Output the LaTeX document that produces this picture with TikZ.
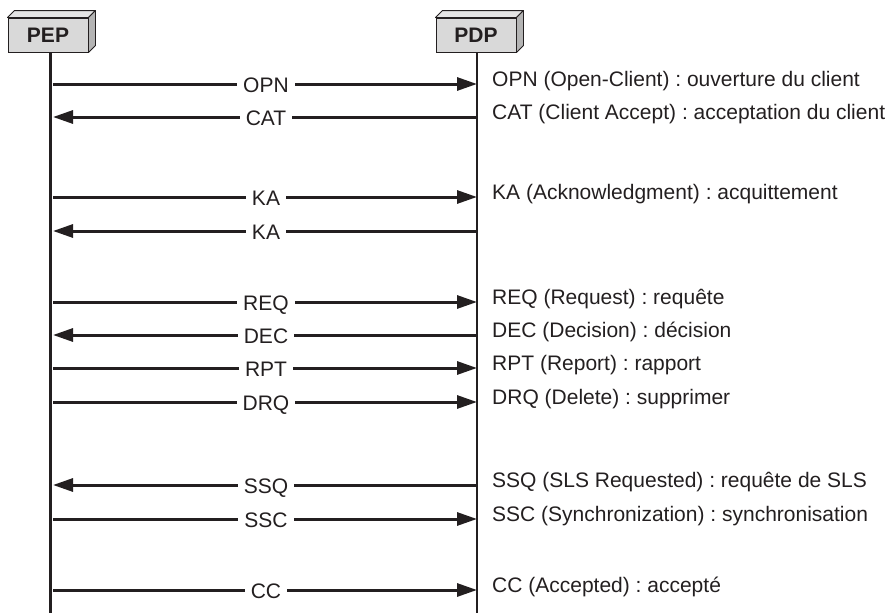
\documentclass[tikz,border=0pt]{standalone}
\usepackage{fontspec}
\setmainfont{Liberation Sans}
\usetikzlibrary{arrows.meta,calc}
\frenchspacing
\definecolor{ink}{HTML}{231F20}
\definecolor{boxfront}{HTML}{D9D9D9}
\definecolor{boxtop}{HTML}{E4E4E4}
\definecolor{boxside}{HTML}{B4B4B4}
\tikzset{
  txt/.style={font=\fontsize{21pt}{25pt}\selectfont, text=ink},
  entity/.style={txt, font=\fontsize{21pt}{25pt}\selectfont\bfseries, draw=ink, line width=0.9pt, fill=boxfront, minimum width=80pt, minimum height=34pt, inner sep=0pt},
  face/.style={draw=ink, line width=0.9pt, line join=round},
  lifeline/.style={draw=ink, line width=2.4pt},
  msgR/.style={draw=ink, line width=3pt, -{Triangle[length=20pt,width=13pt]}},
  msgL/.style={draw=ink, line width=3pt, {Triangle[length=20pt,width=13pt]}-},
  lbl/.style={txt, fill=white, inner xsep=6pt, inner ysep=0pt, text height=15pt, text depth=0pt},
  desc/.style={txt, anchor=base west, inner sep=0pt}
}
\begin{document}
\begin{tikzpicture}[x=1pt,y=-1pt]
\useasboundingbox (0,0) rectangle (895,613);
% lifelines
\coordinate (pepTop) at (50.5,50);
\coordinate (pepBot) at (50.5,613);
\coordinate (pdpTop) at (477,50);
\coordinate (pdpBot) at (477,613);
\draw[lifeline] (pepTop) -- (pepBot);
\draw[lifeline] (pdpTop) -- (pdpBot);
% entity boxes
\node[entity] (pep) at (48,35) {PEP};
\node[entity] (pdp) at (476,35) {PDP};
\foreach \b in {pep,pdp}{
  \filldraw[face, fill=boxtop] (\b.north west) -- ($(\b.north west)+(7,-7)$) -- ($(\b.north east)+(7,-7)$) -- (\b.north east) -- cycle;
  \filldraw[face, fill=boxside] (\b.north east) -- ($(\b.north east)+(7,-7)$) -- ($(\b.south east)+(7,-7)$) -- (\b.south east) -- cycle;
}
% messages
\foreach \i/\y/\d/\lab/\desc in {
  1/84/R/OPN/{OPN (Open-Client) : ouverture du client},
  2/117/L/CAT/{CAT (Client Accept) : acceptation du client},
  3/197/R/KA/{KA (Acknowledgment) : acquittement},
  4/231/L/KA/{},
  5/302/R/REQ/{REQ (Request) : requête},
  6/335/L/DEC/{DEC (Decision) : décision},
  7/368/R/RPT/{RPT (Report) : rapport},
  8/402/R/DRQ/{DRQ (Delete) : supprimer},
  9/485/L/SSQ/{SSQ (SLS Requested) : requête de SLS},
  10/519/R/SSC/{SSC (Synchronization) : synchronisation},
  11/590/R/CC/{CC (Accepted) : accepté}}{
  \coordinate (a\i) at (53,\y);
  \coordinate (b\i) at (477,\y);
  \draw[msg\d] (a\i) -- (b\i);
  \node[lbl] (m\i) at (266,\y+0.5) {\lab};
  \node[desc] (t\i) at (492,\y+2) {\desc};
}
\end{tikzpicture}
\end{document}
